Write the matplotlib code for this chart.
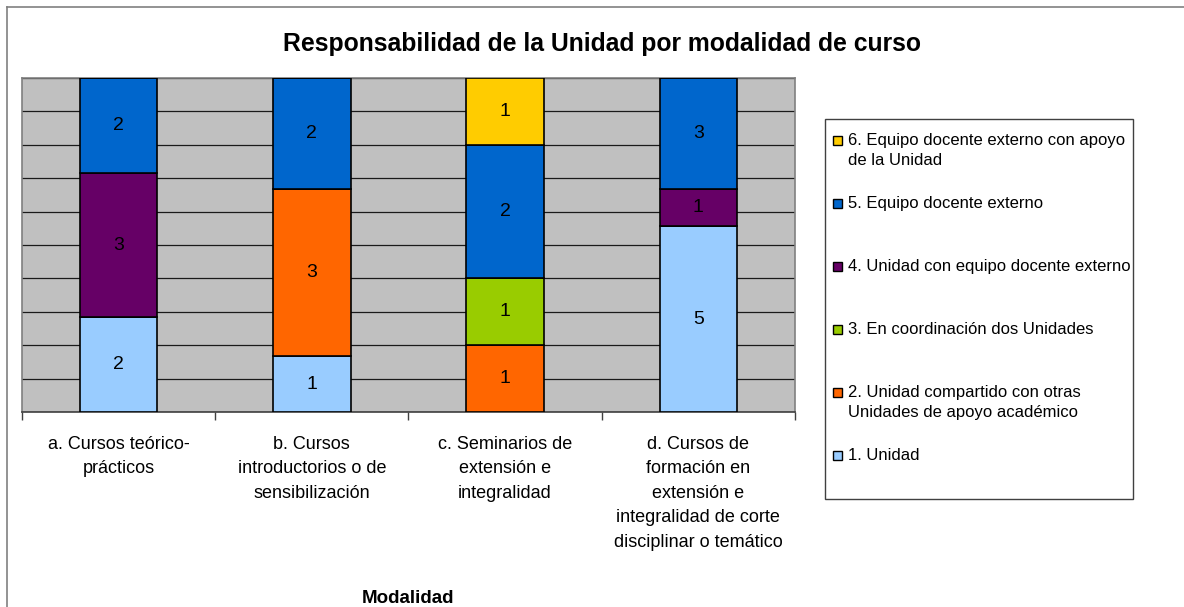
import matplotlib
matplotlib.use("Agg")
import matplotlib.pyplot as plt
import numpy as np
from matplotlib.patches import Rectangle
from matplotlib.lines import Line2D

plt.rcParams['font.family'] = ['Liberation Sans', 'DejaVu Sans']

categories = ["a. Cursos teórico-\nprácticos",
              "b. Cursos\nintroductorios o de\nsensibilización",
              "c. Seminarios de\nextensión e\nintegralidad",
              "d. Cursos de\nformación en\nextensión e\nintegralidad de corte\ndisciplinar o temático"]
series_names = ["1. Unidad",
                "2. Unidad compartido con otras\nUnidades de apoyo académico",
                "3. En coordinación dos Unidades",
                "4. Unidad con equipo docente externo",
                "5. Equipo docente externo",
                "6. Equipo docente externo con apoyo\nde la Unidad"]
colors = ["#99CCFF", "#FF6600", "#99CC00", "#660066", "#0066CC", "#FFCC00"]
s1_unidad = [2, 1, 0, 5]
s2_compartido = [0, 3, 1, 0]
s3_coordinacion = [0, 0, 1, 0]
s4_unidad_externo = [3, 0, 0, 1]
s5_externo = [2, 2, 2, 3]
s6_externo_apoyo = [0, 0, 1, 0]
series = [s1_unidad, s2_compartido, s3_coordinacion, s4_unidad_externo, s5_externo, s6_externo_apoyo]

W, H = 1184, 607
fig = plt.figure(figsize=(W / 100, H / 100), dpi=100)
ax = fig.add_axes([22 / W, 1 - 412 / H, (795 - 22) / W, (412 - 78) / H])
ax.set_facecolor("#C0C0C0")

data = np.array(series, dtype=float)
totals = data.sum(axis=0)
x = np.arange(len(categories))
bottom = np.zeros(len(categories))
for vals, col in zip(data, colors):
    frac = vals / totals * 100
    ax.bar(x, frac, bottom=bottom, width=0.4, color=col, edgecolor="black", linewidth=1.2, zorder=3)
    for xi, v, f, b in zip(x, vals, frac, bottom):
        if v > 0:
            ax.text(xi, b + f / 2, f"{int(v)}", ha="center", va="center", fontsize=14, color="black", zorder=4)
    bottom += frac

ax.set_xlim(-0.5, len(categories) - 0.5)
ax.set_ylim(0, 100)
ax.set_yticks(np.arange(0, 101, 10))
ax.set_yticklabels([])
ax.tick_params(axis="y", length=0)
ax.yaxis.grid(True, color="#1a1a1a", linewidth=0.9, zorder=1)
ax.set_axisbelow(True)

ax.set_xticks(x)
ax.set_xticklabels(categories, fontsize=13, linespacing=1.58, va="top")
ax.tick_params(axis="x", which="major", length=0, pad=17)
ax.set_xticks(np.arange(-0.5, len(categories)), minor=True)
ax.tick_params(axis="x", which="minor", length=6, width=1, color="#404040", direction="out")

for side in ["left", "top", "right"]:
    ax.spines[side].set_color("#808080")
    ax.spines[side].set_linewidth(1.2)
ax.spines["bottom"].set_color("#404040")
ax.spines["bottom"].set_linewidth(1.2)

ax.set_xlabel("Modalidad", fontsize=13.5, fontweight="bold")
ax.xaxis.set_label_coords(0.5, -(590 - 412) / (412 - 78))

fig.text(602 / W, 1 - 44 / H, "Responsabilidad de la Unidad por modalidad de curso",
         ha="center", va="center", fontsize=17.8, fontweight="bold")

# chart border (left and top visible)
fig.add_artist(Line2D([7 / W, 7 / W], [0, 1 - 7 / H], color="#808080", linewidth=1.2, transform=fig.transFigure))
fig.add_artist(Line2D([7 / W, 1], [1 - 7 / H, 1 - 7 / H], color="#808080", linewidth=1.2, transform=fig.transFigure))

# legend box
lx0, ly0, lx1, ly1 = 825, 119, 1133, 499
fig.add_artist(Rectangle((lx0 / W, 1 - ly1 / H), (lx1 - lx0) / W, (ly1 - ly0) / H,
                         transform=fig.transFigure, facecolor="white", edgecolor="#404040", linewidth=1.0))
first_y = 140
step = 63
for i, (name, col) in enumerate(zip(series_names[::-1], colors[::-1])):
    yy = first_y + i * step
    fig.add_artist(Rectangle((833 / W, 1 - (yy + 4.5) / H), 9 / W, 9 / H, transform=fig.transFigure,
                             facecolor=col, edgecolor="black", linewidth=1.0))
    fig.text(848 / W, 1 - (yy - 7) / H, name, ha="left", va="top", fontsize=12, linespacing=1.45)

fig.savefig("out.png", dpi=100)
